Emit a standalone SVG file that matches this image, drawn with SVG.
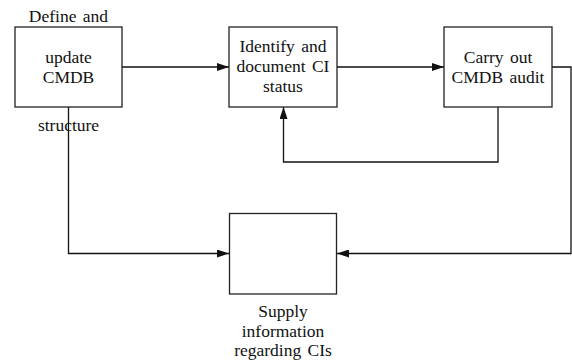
<svg xmlns="http://www.w3.org/2000/svg" width="572" height="364" viewBox="0 0 572 364">
  <style>
    .box { fill: #ffffff; stroke: #222222; stroke-width: 1.3; }
    .wire { fill: none; stroke: #111111; stroke-width: 1.3; }
    .lbl { font-family: "Liberation Serif", "Times New Roman", serif; font-size: 17.5px; fill: #111111; text-anchor: middle; word-spacing: 2px; }
  </style>
  <defs>
    <marker id="arrow" viewBox="0 0 12 8" refX="12" refY="4" markerWidth="12" markerHeight="8" markerUnits="userSpaceOnUse" orient="auto">
      <path d="M0,0 L12,4 L0,8 Z" fill="#111111"/>
    </marker>
  </defs>

  <rect width="572" height="364" fill="#ffffff"/>

  <g id="connectors">
    <!-- define/update -> identify -->
    <line class="wire" x1="122" y1="67" x2="229" y2="67" marker-end="url(#arrow)"/>
    <!-- identify -> audit -->
    <line class="wire" x1="337" y1="67" x2="444" y2="67" marker-end="url(#arrow)"/>
    <!-- audit feedback -> identify -->
    <polyline class="wire" points="498,107 498,162 283.5,162 283.5,107" marker-end="url(#arrow)"/>
    <!-- define/update -> supply -->
    <polyline class="wire" points="68.5,107 68.5,253.5 229,253.5" marker-end="url(#arrow)"/>
    <!-- audit -> supply -->
    <polyline class="wire" points="552,67 571,67 571,253.5 337,253.5" marker-end="url(#arrow)"/>
  </g>

  <g id="define-cmdb">
    <rect class="box" x="15" y="27" width="107" height="80"/>
    <text class="lbl" x="68.5" y="21.5">Define and</text>
    <text class="lbl" x="68.5" y="63">update</text>
    <text class="lbl" x="68.5" y="83">CMDB</text>
    <text class="lbl" x="68.5" y="131">structure</text>
  </g>

  <g id="identify-ci">
    <rect class="box" x="229" y="27" width="108" height="80"/>
    <text class="lbl" x="283" y="51.5">Identify and</text>
    <text class="lbl" x="283" y="71.5">document CI</text>
    <text class="lbl" x="283" y="91.5">status</text>
  </g>

  <g id="cmdb-audit">
    <rect class="box" x="444" y="27" width="108" height="80"/>
    <text class="lbl" x="498" y="63">Carry out</text>
    <text class="lbl" x="498" y="83">CMDB audit</text>
  </g>

  <g id="supply-info">
    <rect class="box" x="229.5" y="213.5" width="107" height="80.5"/>
    <text class="lbl" x="283" y="316.5">Supply</text>
    <text class="lbl" x="283" y="336.5">information</text>
    <text class="lbl" x="283" y="356">regarding CIs</text>
  </g>
</svg>
